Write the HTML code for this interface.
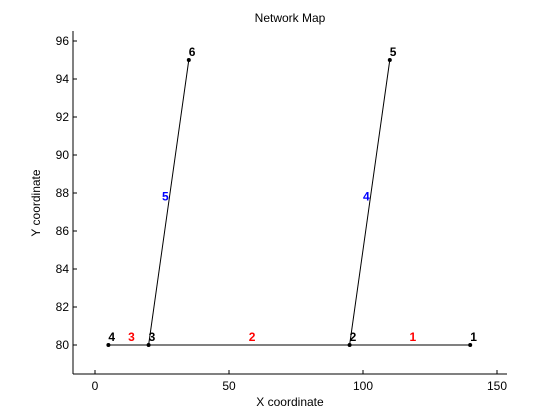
<!DOCTYPE html>
<html><head><meta charset="utf-8"><style>body{margin:0;background:#fff}svg{display:block}</style></head>
<body>
<svg id="c" width="560" height="420" xmlns="http://www.w3.org/2000/svg" font-family="Liberation Sans, sans-serif"></svg>
<script>
const nodeIds=[1,2,3,4,5,6];
const nodeX=[140,95,20,5,110,35];
const nodeY=[80,80,80,80,95,95];
const linkIds=[1,2,3,4,5];
const linkFrom=[1,2,3,2,3];
const linkTo=[2,3,4,5,6];
const xTicks=[0,50,100,150];
const yTicks=[80,82,84,86,88,90,92,94,96];
const sx=v=>95+v*(229-95)/50;
const sy=v=>345-(v-80)*(345-41)/16;
const svg=document.getElementById('c');
const NS='http://www.w3.org/2000/svg';
function mk(t,a,txt){const e=document.createElementNS(NS,t);for(const k in a)e.setAttribute(k,a[k]);if(txt!==undefined)e.textContent=txt;svg.appendChild(e);return e;}
const L=73,R=507,T=31,B=374;
let e;
e=mk('line',{x1:L,y1:B,x2:R,y2:B,stroke:'#000'});
e=mk('line',{x1:L,y1:T,x2:L,y2:B,stroke:'#000'});
xTicks.forEach(v=>{const x=sx(v);mk('line',{x1:x,y1:B,x2:x,y2:B-4,stroke:'#000'});
e=mk('text',{x:x,y:B+16,'font-size':12,'text-anchor':'middle'},String(v));});
yTicks.forEach(v=>{const y=sy(v);mk('line',{x1:L,y1:y,x2:L+4,y2:y,stroke:'#000'});
e=mk('text',{x:L-4,y:y+4,'font-size':12,'text-anchor':'end'},String(v));});
e=mk('text',{x:290,y:406,'font-size':12,'text-anchor':'middle'},'X coordinate');
e=mk('text',{x:40,y:203,'font-size':12,'text-anchor':'middle',transform:'rotate(-90 40 203)'},'Y coordinate');
e=mk('text',{x:290,y:22,'font-size':12,'text-anchor':'middle'},'Network Map');
linkIds.forEach((id,i)=>{const a=nodeIds.indexOf(linkFrom[i]),b=nodeIds.indexOf(linkTo[i]);
const x1=sx(nodeX[a]),y1=sy(nodeY[a]),x2=sx(nodeX[b]),y2=sy(nodeY[b]);
e=mk('line',{x1,y1,x2,y2,stroke:'#000'});
const vert=Math.abs(y2-y1)>Math.abs(x2-x1);
e=mk('text',{x:(x1+x2)/2+(vert?0:3),y:(y1+y2)/2+(vert?-2:-4),'font-size':12,'font-weight':'bold',fill:vert?'#0000ff':'#ff0000','text-anchor':vert?'end':'middle'},String(id));
});
nodeIds.forEach((id,i)=>{const x=sx(nodeX[i]),y=sy(nodeY[i]);
e=mk('circle',{cx:x,cy:y,r:2,fill:'#000'});
e=mk('text',{x:x,y:y-4,'font-size':12,'font-weight':'bold'},String(id));});
</script>
</body></html>
